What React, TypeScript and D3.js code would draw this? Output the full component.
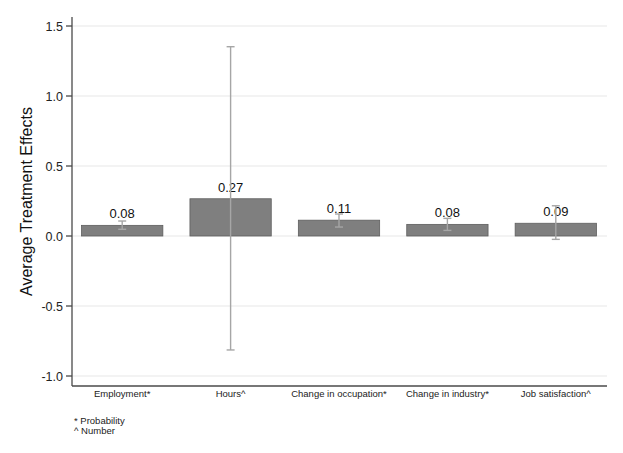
import React, { useRef, useEffect } from 'react';
import * as d3 from 'd3';

// chart values
const categories = ['Employment*', 'Hours^', 'Change in occupation*', 'Change in industry*', 'Job satisfaction^'];
const effects = [0.076, 0.266, 0.113, 0.083, 0.091];
const effectLabels = ['0.08', '0.27', '0.11', '0.08', '0.09'];
const ciLow = [0.048, -0.814, 0.064, 0.040, -0.024];
const ciHigh = [0.107, 1.352, 0.157, 0.126, 0.216];
const yTicks = [-1.0, -0.5, 0.0, 0.5, 1.0, 1.5];
const notes = ['* Probability', '^ Number'];

const W = 623;
const H = 453;
const FONT = '"Liberation Sans", Arial, Helvetica, sans-serif';

const App: React.FC = () => {
    const svgRef = useRef<SVGSVGElement | null>(null);

    useEffect(() => {
        const svg = d3.select(svgRef.current);
        svg.selectAll('*').remove();

        const left = 72;
        const right = 607;
        const top = 17;
        const bottom = 386;

        const x = d3.scaleBand<string>()
            .domain(categories)
            .range([68, 610])
            .paddingInner(0.25)
            .paddingOuter(0.125);

        const y = d3.scaleLinear()
            .domain([-1, 1.5])
            .range([376, 26]);

        // grid lines
        svg.append('g')
            .selectAll('line')
            .data(yTicks)
            .enter().append('line')
            .attr('x1', left)
            .attr('x2', right)
            .attr('y1', d => y(d))
            .attr('y2', d => y(d))
            .attr('stroke', '#e8e8e8')
            .attr('stroke-width', 1.2);

        const rows = categories.map((c, i) => ({
            cat: c, v: effects[i], lab: effectLabels[i], lo: ciLow[i], hi: ciHigh[i]
        }));

        // bars
        svg.append('g')
            .selectAll('rect')
            .data(rows)
            .enter().append('rect')
            .attr('x', d => x(d.cat)!)
            .attr('width', x.bandwidth())
            .attr('y', d => y(Math.max(0, d.v)))
            .attr('height', d => Math.abs(y(d.v) - y(0)))
            .attr('fill', '#7f7f7f')
            .attr('stroke', '#5e5e5e')
            .attr('stroke-width', 0.8);

        // value labels
        svg.append('g')
            .selectAll('text')
            .data(rows)
            .enter().append('text')
            .attr('x', d => x(d.cat)! + x.bandwidth() / 2)
            .attr('y', d => y(d.v) - 7)
            .attr('text-anchor', 'middle')
            .attr('font-family', FONT)
            .attr('font-size', 13)
            .attr('fill', '#111')
            .text(d => d.lab);

        // confidence intervals
        const ci = svg.append('g')
            .attr('stroke', '#a6a6a6')
            .attr('stroke-width', 1.4)
            .attr('fill', 'none');
        rows.forEach(d => {
            const cx = x(d.cat)! + x.bandwidth() / 2;
            ci.append('line')
                .attr('x1', cx).attr('x2', cx)
                .attr('y1', y(d.lo)).attr('y2', y(d.hi));
            [d.lo, d.hi].forEach(v => {
                ci.append('line')
                    .attr('x1', cx - 4).attr('x2', cx + 4)
                    .attr('y1', y(v)).attr('y2', y(v));
            });
        });

        // y axis
        const axis = svg.append('g').attr('stroke', '#4a4a4a').attr('stroke-width', 1.3);
        axis.append('line').attr('x1', left).attr('x2', left).attr('y1', top).attr('y2', bottom);
        axis.append('line').attr('x1', left).attr('x2', right).attr('y1', bottom).attr('y2', bottom);
        axis.selectAll('.tick')
            .data(yTicks)
            .enter().append('line')
            .attr('x1', left - 6)
            .attr('x2', left)
            .attr('y1', d => y(d))
            .attr('y2', d => y(d));

        // plain hyphen minus like the original, not d3's unicode minus
        const fmt = (d: number) => d.toFixed(1);

        svg.append('g')
            .selectAll('text')
            .data(yTicks)
            .enter().append('text')
            .attr('x', left - 9)
            .attr('y', d => y(d))
            .attr('dy', '0.36em')
            .attr('text-anchor', 'end')
            .attr('font-family', FONT)
            .attr('font-size', 12.5)
            .attr('fill', '#222')
            .text(d => fmt(d));

        svg.append('text')
            .attr('transform', `translate(32, ${(top + bottom) / 2}) rotate(-90)`)
            .attr('text-anchor', 'middle')
            .attr('font-family', FONT)
            .attr('font-size', 16)
            .attr('fill', '#111')
            .text('Average Treatment Effects');

        // category labels
        svg.append('g')
            .selectAll('text')
            .data(categories)
            .enter().append('text')
            .attr('x', d => x(d)! + x.bandwidth() / 2)
            .attr('y', 397)
            .attr('text-anchor', 'middle')
            .attr('font-family', FONT)
            .attr('font-size', 9.5)
            .attr('fill', '#222')
            .text(d => d);

        // notes
        svg.append('g')
            .selectAll('text')
            .data(notes)
            .enter().append('text')
            .attr('x', 74)
            .attr('y', (d, i) => 424 + i * 9.5)
            .attr('font-family', FONT)
            .attr('font-size', 9.5)
            .attr('fill', '#222')
            .text(d => d);
    }, []);

    return (
        <svg
            ref={svgRef}
            width={W}
            height={H}
            style={{ position: 'absolute', left: 0, top: 0, background: '#fff' }}
        ></svg>
    );
};

export default App;
